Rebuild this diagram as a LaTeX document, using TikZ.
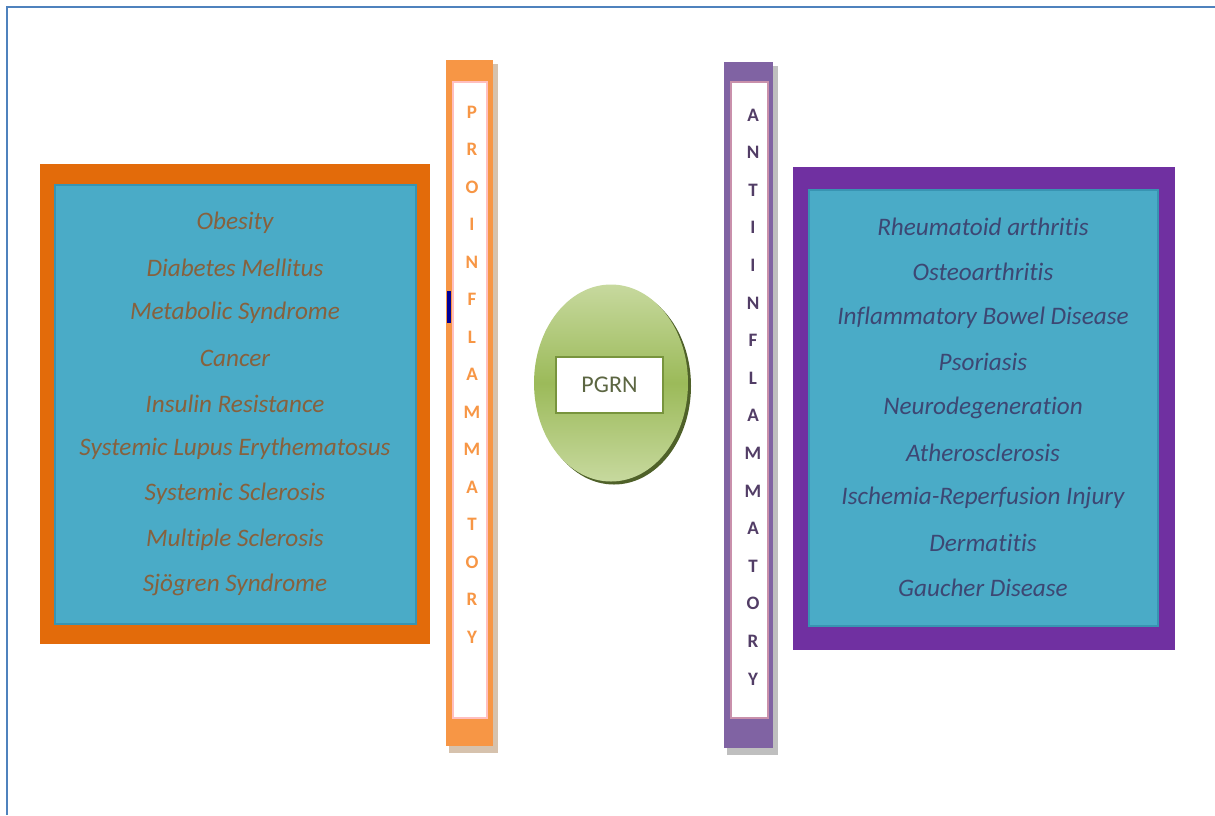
\documentclass[tikz,border=0pt]{standalone}
\usepackage{fontspec}
\setmainfont[Ligatures=NoCommon]{Carlito}
\usepackage{xcolor}
\usetikzlibrary{shapes.geometric}
\definecolor{framecol}{rgb}{0.31,0.51,0.74}
\definecolor{proOut}{rgb}{0.89,0.42,0.04}
\definecolor{antiOut}{rgb}{0.44,0.19,0.63}
\definecolor{cyanFill}{rgb}{0.29,0.67,0.78}
\definecolor{cyanEdge}{rgb}{0.22,0.58,0.70}
\definecolor{proBar}{rgb}{0.97,0.59,0.27}
\definecolor{antiBar}{rgb}{0.50,0.39,0.64}
\definecolor{proText}{rgb}{0.53,0.38,0.24}
\definecolor{antiText}{rgb}{0.24,0.28,0.45}
\definecolor{antiLetter}{rgb}{0.32,0.24,0.40}
\definecolor{ballLight}{rgb}{0.78,0.85,0.62}
\definecolor{ballMid}{rgb}{0.61,0.73,0.35}
\definecolor{ballDark}{rgb}{0.31,0.38,0.16}
\definecolor{pgrnEdge}{rgb}{0.47,0.58,0.24}
\definecolor{pgrnText}{rgb}{0.36,0.40,0.26}

\begin{document}
\begin{tikzpicture}[x=0.5pt,y=-0.5pt,
    disease/.style={font=\fontsize{12.6}{14}\selectfont\itshape, inner sep=0pt},
    barletter/.style={font=\fontsize{9.5}{11}\selectfont\bfseries, inner sep=0pt}]
    \useasboundingbox (0,0) rectangle (1215,815);

    % draw frame
    \draw[framecol, line width=1.2pt] (7,815) -- (7,7) -- (1215,7);

    % draw pro-inflammatory box
    \fill[proOut] (40,164) rectangle (430,644);
    \draw[cyanEdge, fill=cyanFill, line width=1pt] (55,185) rectangle (416,624);
    \foreach \name [count=\i] in {Obesity, Diabetes Mellitus, Metabolic Syndrome, Cancer,
        Insulin Resistance, Systemic Lupus Erythematosus, Systemic Sclerosis,
        Multiple Sclerosis, Sjögren Syndrome}
        \node[disease, text=proText] (pro\i) at (235,{177+45.3*\i}) {\name};

    % draw anti-inflammatory box
    \fill[antiOut] (793,167) rectangle (1175,650);
    \draw[cyanEdge, fill=cyanFill, line width=1pt] (809,190) rectangle (1158,626);
    \foreach \name [count=\i] in {Rheumatoid arthritis, Osteoarthritis,
        Inflammatory Bowel Disease, Psoriasis, Neurodegeneration, Atherosclerosis,
        Ischemia-Reperfusion Injury, Dermatitis, Gaucher Disease}
        \node[disease, text=antiText] (anti\i) at (983,{182+45.1*\i}) {\name};

    % draw vertical bars
    \fill[black!20!brown!40] (449,64) rectangle (498,753);
    \fill[proBar] (446,60) rectangle (493,746);
    \draw[red!25, fill=white, line width=0.8pt] (453,82) rectangle (487,718);
    \fill[blue!60!black] (447,291) rectangle (451,323);
    \foreach \ch [count=\i] in {P,R,O,I,N,F,L,A,M,M,A,T,O,R,Y}
        \node[barletter, text=proBar] (proch\i) at (472,{74.5+37.5*\i}) {\ch};

    \fill[black!25] (727,66) rectangle (778,755);
    \fill[antiBar] (724,62) rectangle (773,748);
    \draw[red!30!antiBar!60, fill=white, line width=0.8pt] (731,82) rectangle (768,718);
    \foreach \ch [count=\i] in {A,N,T,I,I,N,F,L,A,M,M,A,T,O,R,Y}
        \node[barletter, text=antiLetter] (antich\i) at (753,{77.4+37.6*\i}) {\ch};

    % draw PGRN ball
    \node[ellipse, fill=ballDark, minimum width=77pt, minimum height=98.5pt, inner sep=0pt]
        (ballshadow) at (614,386) {};
    \node[ellipse, top color=ballLight, bottom color=ballLight, middle color=ballMid,
        minimum width=77pt, minimum height=98.5pt, inner sep=0pt] (ball) at (611,383) {};
    \node[draw=pgrnEdge, line width=1.2pt, fill=white, minimum width=53.5pt,
        minimum height=28pt, inner sep=0pt, font=\fontsize{12}{14}\selectfont,
        text=pgrnText] (pgrn) at (609.5,385) {PGRN};
\end{tikzpicture}
\end{document}
